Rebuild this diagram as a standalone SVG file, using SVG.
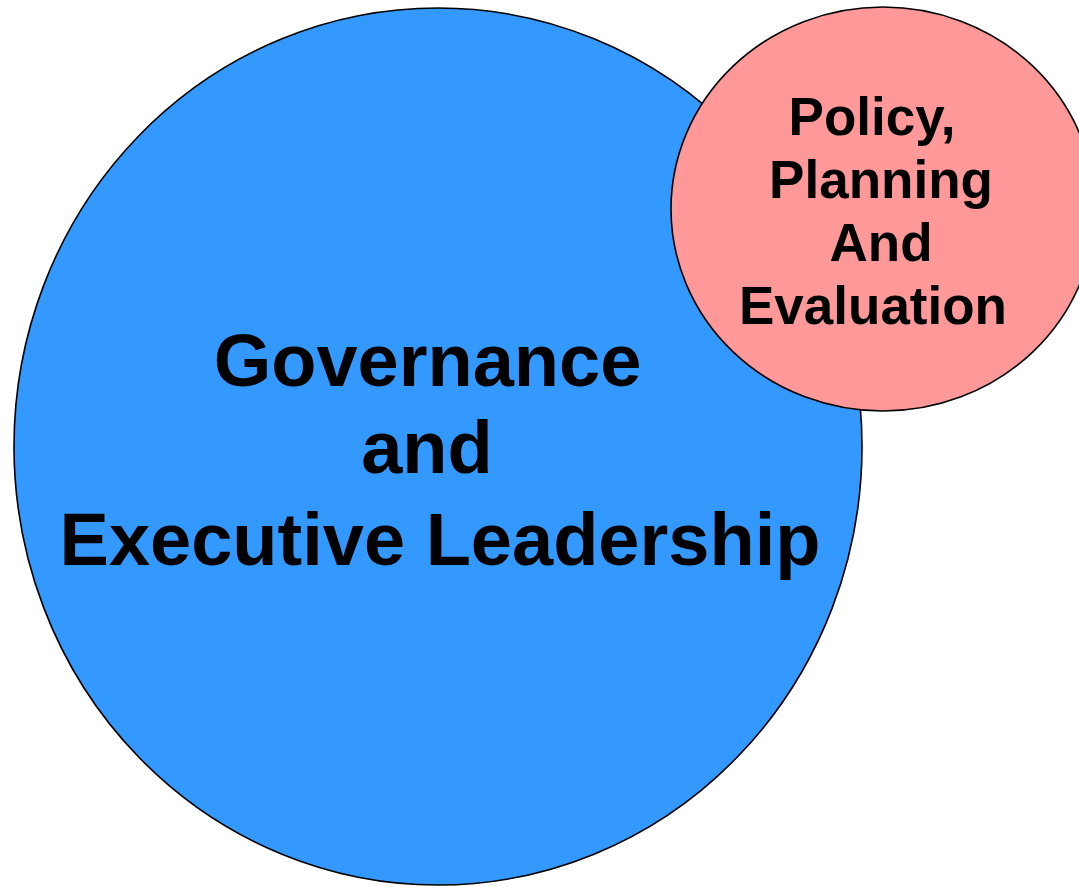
<svg xmlns="http://www.w3.org/2000/svg" width="1079" height="886" viewBox="0 0 1079 886">
  <style>
    .shape { stroke: #000000; stroke-width: 1.6; }
    .label { font-family: "Liberation Sans", Arial, sans-serif; font-weight: bold; fill: #000000; text-anchor: middle; }
    .big { font-size: 74px; }
    .small { font-size: 53px; }
  </style>
  <rect width="1079" height="886" fill="#ffffff"/>
  <g id="governance">
    <ellipse class="shape" cx="438" cy="446.5" rx="424" ry="438.5" fill="#3399FF"/>
    <text class="label big" x="427.5" y="386">Governance</text>
    <text class="label big" x="427" y="473">and</text>
    <text class="label big" x="440" y="565">Executive Leadership</text>
  </g>
  <g id="policy">
    <ellipse class="shape" cx="883" cy="209" rx="212" ry="202" fill="#FF9999"/>
    <text class="label small" x="872" y="135">Policy,</text>
    <text class="label small" x="881" y="198">Planning</text>
    <text class="label small" x="881" y="261">And</text>
    <text class="label small" x="873" y="324">Evaluation</text>
  </g>
  <g id="connectors"/>
</svg>
